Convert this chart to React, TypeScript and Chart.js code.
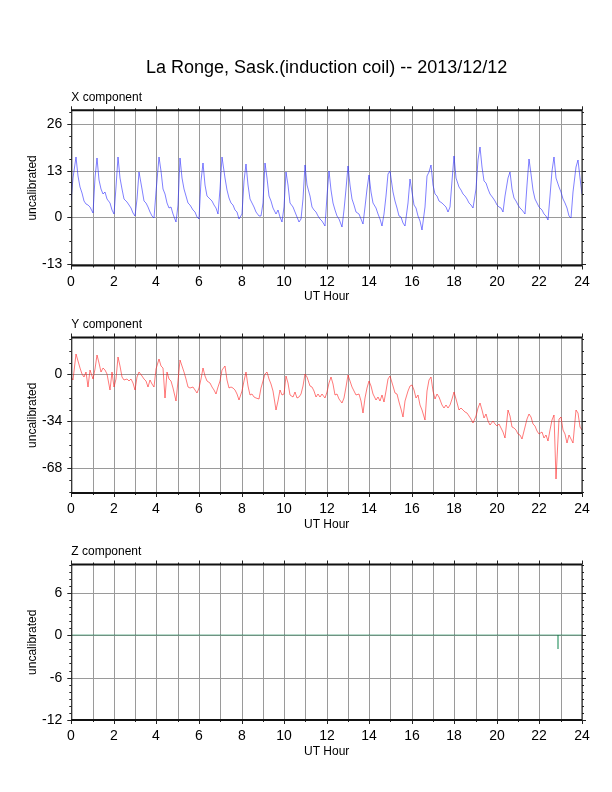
import { useEffect, useRef } from 'react'
import { Chart, registerables } from 'chart.js'
Chart.register(...registerables)

Chart.defaults.font.family = '"Liberation Sans", Arial, Helvetica, sans-serif'
Chart.defaults.color = '#000'

// sample grid, one value every 0.1 UT hour
const HOURS = Array.from({ length: 241 }, (_, i) => i / 10)
const HOUR_TICKS = [0, 1, 2, 3, 4, 5, 6, 7, 8, 9, 10, 11, 12, 13, 14, 15, 16, 17, 18, 19, 20, 21, 22, 23, 24]

const X_COMP = [
  4.5, 11, 16.8, 11.5, 8.5, 6.8, 4.5, 3.6, 3.5, 2.8,
  1.2, 11, 16.5, 10.5, 8, 6.5, 7, 5, 4, 2,
  0.8, 8.5, 16.8, 11, 8, 5, 4.2, 3.5, 2.5, 1.2,
  0.4, 5, 12.5, 8, 4.5, 4, 3, 1.5, 0.5, -0.3,
  7, 16.8, 13, 8, 6.5, 4, 2.5, 3, 1, -1.4,
  3.5, 16.5, 11, 8, 6, 4, 3.5, 2, 1.5, 0,
  -0.5, 10, 15, 9, 6, 5, 4.5, 3.5, 2.5, 1,
  8, 16.8, 11, 7.5, 5.5, 4, 3.5, 2, 1.5, -0.5,
  1, 10, 14.8, 9, 5, 4, 3, 1.5, 0.5, 0.4,
  4, 15, 11, 6, 4.5, 2.5, 1, 2, 0, -1.4,
  3, 12.5, 9, 4, 3, 1.5, 0, -1.2, -0.5, 5,
  14.5, 9, 6, 3, 2, 1.5, 0.5, -0.5, -1, -2.3,
  6, 13, 7.5, 4, 2, 0.5, -0.5, -2.8, 2, 8,
  14.3, 9, 5, 3.5, 1.5, 1, -0.5, -1.9, 3, 8,
  11.8, 7, 4, 2.5, 1, -0.5, -2.5, 1, 6, 12,
  13, 7, 4.5, 2.5, 0.5, 0, -1.5, -2.3, 4, 10.6,
  7, 3.5, 2.5, 0.5, -1, -3.4, 3, 11.5, 12.5, 14.5,
  9, 6.5, 6, 4.5, 4, 3.5, 3, 1.5, 3, 10,
  17, 11, 8.5, 7.5, 6.5, 6, 5, 4, 3.5, 2.6,
  8, 16, 19.5, 14, 10, 9.5, 8, 6.5, 5.5, 4.5,
  3.5, 3, 2.5, 1.4, 6, 11, 12.5, 8, 5.5, 4.5,
  3.5, 2.5, 2, 1, 9, 16.3, 12, 7.5, 5, 4,
  3, 2, 1, 0.5, -0.7, 6, 13, 16.8, 11, 8.5,
  7, 5, 4, 2.5, 0.5, -0.3, 7, 14, 16, 11,
  6.4,
]

const Y_COMP = [
  -2, -4, 15, 10, 5, 0, -2, 2, -9, 3,
  -3, 4, 14, 8, 2, 5, 3, 0, -11, 2,
  -9, -3, 12.5, 6, -2, -4, -3, -5, -3, -6,
  -11, -2, 2, -1, -3, -5, -9, -4, -7, -9,
  4, 11, 6, 5, -17, 2, -3, -5, -10, -19.5,
  -5, 10.5, 6, 2, -3, -9, -10, -9, -11, -13.5,
  -10, -3, 4.5, -1, -5, -6, -9, -11, -14, -9,
  -5, 3, 6.5, -4, -10, -9, -10, -11, -14, -18.5,
  -12, -5, 1.5, -8, -15, -14, -16, -17, -17.5, -10,
  -5, 0, 1.5, -3, -7, -12, -25.5, -19, -11, -15,
  -14, -1, -6, -15, -16, -13, -17, -16, -14, -8,
  0.5, -2, -8, -9, -12, -16.5, -14, -16, -14, -17,
  -13, -6, -2, -7, -15, -14, -18, -21, -17, -9,
  -0.5, -5, -9, -12, -15, -14, -19, -28, -17, -10,
  -5, -8, -14, -18.5, -16, -19, -15, -20, -12, -3,
  -1, -8, -13.5, -14, -20, -25, -31, -19, -12, -8,
  -7.5, -11, -17, -15, -22, -26, -33, -12, -4, -1.5,
  -12, -18, -14, -16, -22, -24, -22, -24, -22, -18,
  -12.5, -18, -25.5, -24, -26, -27, -28, -30, -32, -35.5,
  -30, -24, -21, -26, -31.5, -29, -34, -36.5, -34, -36,
  -37.5, -36, -39, -42, -46, -26, -30, -38, -39, -40,
  -43, -44, -47, -38, -32, -29, -31, -36, -37, -41,
  -43.5, -42, -46, -44, -48.5, -40, -33, -29.5, -76, -32,
  -31, -40, -43, -50, -44, -47, -50, -26, -28, -38,
  -40,
]

const Z_HOURS = [0, 22.88, 22.885, 22.89, 24]
const Z_COMP = [0, 0, -1.9, 0, 0]

const X_YTICKS = [-13, 0, 13, 26]
const Y_YTICKS = [-68, -34, 0]
const Z_YTICKS = [-12, -6, 0, 6]

interface PanelCfg {
  label: string
  times: number[]
  values: number[]
  color: string
  min: number
  max: number
  yTicks: number[]
  minorStep: number
  top: number
  height: number
  padTop: number
  padBottom: number
  mainTitle?: string
}

const GRID = '#9a9a9a'

const framePlugin = (minorStep: number, yTicks: number[]) => ({
  id: 'frame',
  afterDraw(chart: any) {
    const { ctx, chartArea: { left, right, top, bottom }, scales: { x, y } } = chart
    const seg = (x1: number, y1: number, x2: number, y2: number) => {
      ctx.beginPath(); ctx.moveTo(x1, y1); ctx.lineTo(x2, y2); ctx.stroke()
    }
    ctx.save()
    ctx.strokeStyle = '#222'
    ctx.lineWidth = 1
    HOUR_TICKS.forEach(h => {
      const px = Math.round(x.getPixelForValue(h)) + 0.5
      const len = h % 2 === 0 ? 4 : 2
      seg(px, top, px, top - len)
      seg(px, bottom, px, bottom + len)
    })
    for (let v = Math.ceil(y.min / minorStep) * minorStep; v <= y.max; v += minorStep) {
      const py = Math.round(y.getPixelForValue(v)) + 0.5
      seg(left, py, left - 2, py)
      seg(right, py, right + 2, py)
    }
    yTicks.forEach(v => {
      const py = Math.round(y.getPixelForValue(v)) + 0.5
      seg(left, py, left - 4, py)
      seg(right, py, right + 4, py)
    })
    ctx.strokeStyle = '#111'
    ctx.lineWidth = 1
    seg(left + 0.5, top, left + 0.5, bottom)
    seg(right, top, right, bottom)
    ctx.lineWidth = 2
    seg(left, top, right, top)
    seg(left, bottom, right, bottom)
    ctx.restore()
  },
})

function Panel({ cfg }: { cfg: PanelCfg }) {
  const ref = useRef<HTMLCanvasElement>(null)

  useEffect(() => {
    if (!ref.current) return
    const chart = new Chart(ref.current, {
      type: 'line',
      data: {
        datasets: [{
          data: cfg.times.map((t, i) => ({ x: t, y: cfg.values[i] })),
          borderColor: cfg.color, borderWidth: 0.7, pointRadius: 0, tension: 0,
        }],
      },
      options: {
        responsive: false, animation: false,
        layout: { padding: { top: cfg.padTop, left: 0, right: 30, bottom: cfg.padBottom } },
        plugins: {
          legend: { display: false },
          tooltip: { enabled: false },
          title: {
            display: !!cfg.mainTitle, text: cfg.mainTitle ?? '', fullSize: false, align: 'center',
            font: { size: 18, weight: 'normal' }, color: '#000', padding: { top: 57, bottom: 12 },
          },
          subtitle: {
            display: true, text: cfg.label, fullSize: false, align: 'start',
            font: { size: 12, weight: 'normal' }, color: '#000', padding: { top: 0, bottom: 5.3 },
          },
        },
        scales: {
          x: {
            type: 'linear', min: 0, max: 24, alignToPixels: true,
            afterBuildTicks: (s: any) => { s.ticks = HOUR_TICKS.map(v => ({ value: v })) },
            afterFit: (s: any) => { s.height = 38.7 },
            ticks: {
              autoSkip: false, maxRotation: 0, padding: 8, font: { size: 14 }, color: '#000',
              callback: (v: any) => (Number(v) % 2 === 0 ? String(v) : ''),
            },
            grid: { color: GRID, lineWidth: 1, drawTicks: false },
            border: { display: false },
            title: { display: true, text: 'UT Hour', font: { size: 12 }, color: '#000', padding: { top: 0, bottom: 0 } },
          },
          y: {
            type: 'linear', min: cfg.min, max: cfg.max, alignToPixels: true,
            afterBuildTicks: (s: any) => { s.ticks = cfg.yTicks.map(v => ({ value: v })) },
            afterFit: (s: any) => { s.width = 71.3 },
            ticks: { padding: 9, font: { size: 14 }, color: '#000' },
            grid: { color: GRID, lineWidth: 1, drawTicks: false },
            border: { display: false },
            title: { display: true, text: 'uncalibrated', font: { size: 12 }, color: '#000', padding: { top: 25.3, bottom: 0 } },
          },
        },
      },
      plugins: [framePlugin(cfg.minorStep, cfg.yTicks)],
    } as any)
    return () => { chart.destroy() }
  }, [cfg])

  return (
    <canvas ref={ref} width={612} height={cfg.height}
      style={{ position: 'absolute', left: 0, top: cfg.top, width: 612, height: cfg.height }} />
  )
}

const PANELS: PanelCfg[] = [
  {
    label: 'X component', times: HOURS, values: X_COMP, color: 'rgba(40,40,255,0.85)',
    min: -13.4, max: 29.8, yTicks: X_YTICKS, minorStep: 3.25,
    top: 0, height: 310, padTop: 0, padBottom: 5.8,
    mainTitle: 'La Ronge, Sask.(induction coil) -- 2013/12/12',
  },
  {
    label: 'Y component', times: HOURS, values: Y_COMP, color: 'rgba(255,30,30,0.85)',
    min: -85.9, max: 26.8, yTicks: Y_YTICKS, minorStep: 8.5,
    top: 310, height: 227, padTop: 7.8, padBottom: 5.3,
  },
  {
    label: 'Z component', times: Z_HOURS, values: Z_COMP, color: 'rgba(0,128,70,0.8)',
    min: -12, max: 10, yTicks: Z_YTICKS, minorStep: 1,
    top: 537, height: 255, padTop: 7.8, padBottom: 33.3,
  },
]

export default function App() {
  return (
    <div style={{ position: 'absolute', left: 0, top: 0, width: 612, height: 792, background: '#fff' }}>
      {PANELS.map(p => <Panel key={p.label} cfg={p} />)}
    </div>
  )
}
